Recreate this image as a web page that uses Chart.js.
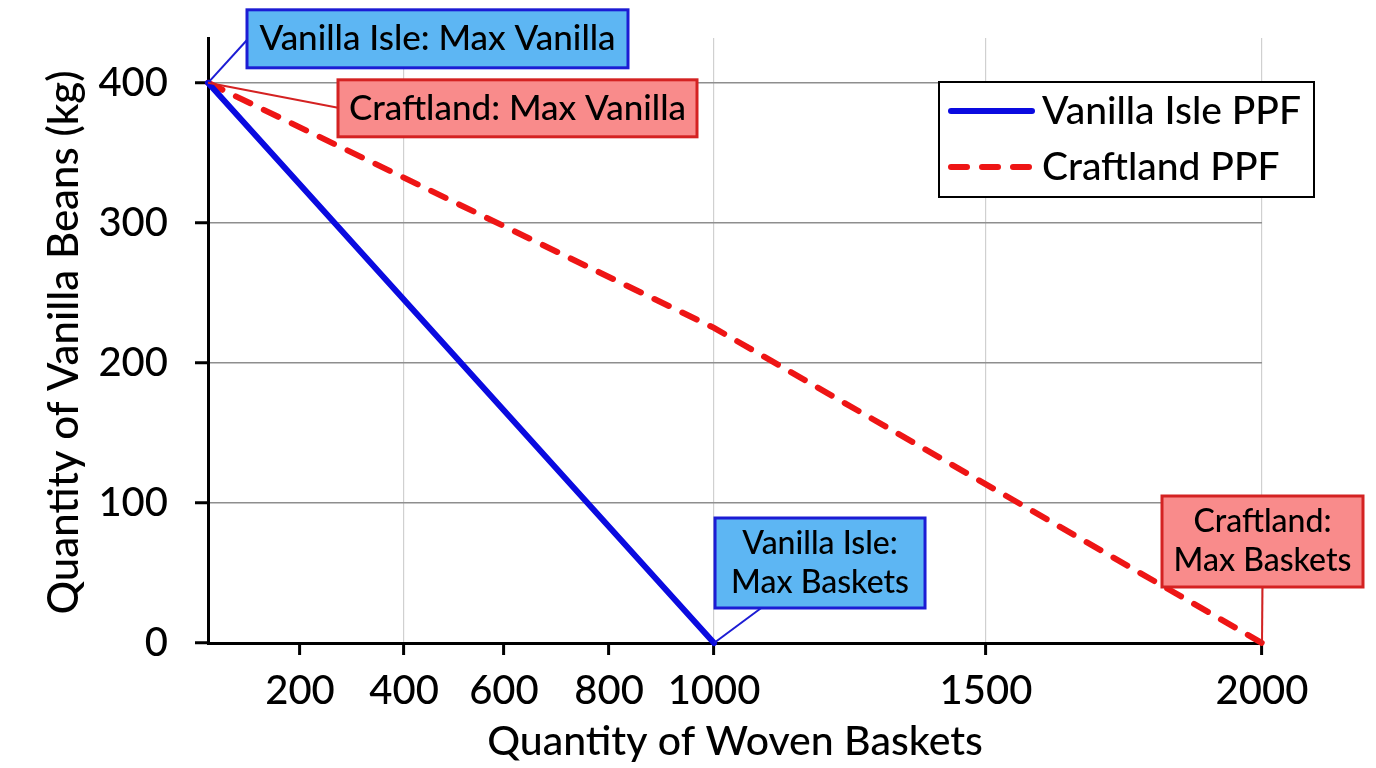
<!DOCTYPE html>
<html>
<head>
<meta charset="utf-8">
<script src="https://cdn.jsdelivr.net/npm/chart.js@4.4.1/dist/chart.umd.min.js"></script>
<style>
  html, body { margin: 0; padding: 0; background: #fff; }
  #wrap { width: 1376px; height: 768px; }
</style>
</head>
<body>
<div id="wrap"><canvas id="ppfChart" width="1376" height="768"></canvas></div>
<script>
// values
const vanillaX = [0, 1000];
const vanillaY = [400, 0];
const craftX = [0, 1000, 2000];
const craftY = [400, 225, 0];
const seriesNames = ['Vanilla Isle PPF', 'Craftland PPF'];
const xTicks = [200, 400, 600, 800, 1000, 1500, 2000];
const xGridAt = [400, 1000, 1500, 2000];
const yTicks = [0, 100, 200, 300, 400];
const xTitle = 'Quantity of Woven Baskets';
const yTitle = 'Quantity of Vanilla Beans (kg)';
const calloutText = [
    ['Vanilla Isle: Max Vanilla'],
    ['Craftland: Max Vanilla'],
    ['Vanilla Isle:', 'Max Baskets'],
    ['Craftland:', 'Max Baskets']
];
const calloutAt = [[0, 400], [0, 400], [1000, 0], [2000, 0]];

// the x axis in the picture is not evenly spaced, so the scale maps
// each stop to its share of the axis length
const axisStops = [0, 200, 400, 600, 800, 1000, 1500, 2000];
const axisShare = [0, 0.0873, 0.186, 0.2808, 0.3805, 0.4801, 0.7381, 1];

class UnevenScale extends Chart.LinearScale {
    getPixelForValue(value) {
        let i = 1;
        while (i < axisStops.length - 1 && value > axisStops[i]) i++;
        const t = (value - axisStops[i - 1]) / (axisStops[i] - axisStops[i - 1]);
        return this.getPixelForDecimal(axisShare[i - 1] + t * (axisShare[i] - axisShare[i - 1]));
    }
    getValueForPixel(pixel) {
        const d = this.getDecimalForPixel(pixel);
        let i = 1;
        while (i < axisShare.length - 1 && d > axisShare[i]) i++;
        const t = (d - axisShare[i - 1]) / (axisShare[i] - axisShare[i - 1]);
        return axisStops[i - 1] + t * (axisStops[i] - axisStops[i - 1]);
    }
}
UnevenScale.id = 'uneven';
UnevenScale.defaults = Chart.LinearScale.defaults;
Chart.register(UnevenScale);

const FONT = 'Lato';
const W = 500;
const blue = '#0a0ae0';
const red = '#ee1515';

const boxStyle = [
    { fill: '#5db6f3', stroke: '#1c1cd4', dx: 39, dy: -73, w: 381, h: 58, ax: 0, ay: 0.52, size: 35 },
    { fill: '#f98b8b', stroke: '#d42222', dx: 130, dy: -3, w: 359, h: 57, ax: 0, ay: 0.49, size: 35 },
    { fill: '#5db6f3', stroke: '#1c1cd4', dx: 1, dy: -125, w: 210, h: 90, ax: 0.22, ay: 1, size: 32 },
    { fill: '#f98b8b', stroke: '#d42222', dx: -100, dy: -147, w: 201, h: 91, ax: 0.5, ay: 1, size: 32 }
];

const calloutPlugin = {
    id: 'callouts',
    afterDatasetsDraw(chart) {
        const c = chart.ctx;
        const xs = chart.scales.x, ys = chart.scales.y;
        c.save();
        calloutText.forEach((lines, i) => {
            const st = boxStyle[i];
            const px = xs.getPixelForValue(calloutAt[i][0]);
            const py = ys.getPixelForValue(calloutAt[i][1]);
            const left = px + st.dx, top = py + st.dy;
            c.strokeStyle = st.stroke;
            c.lineWidth = 2;
            c.beginPath();
            c.moveTo(px, py);
            c.lineTo(left + st.ax * st.w, top + st.ay * st.h);
            c.stroke();
            c.fillStyle = st.fill;
            c.fillRect(left, top, st.w, st.h);
            c.lineWidth = 3;
            c.strokeRect(left, top, st.w, st.h);
            c.fillStyle = '#000';
            c.font = W + ' ' + st.size + 'px ' + FONT;
            c.textAlign = 'center';
            c.textBaseline = 'middle';
            const mid = top + st.h / 2;
            lines.forEach((t, k) => {
                c.fillText(t, left + st.w / 2, mid + (k - (lines.length - 1) / 2) * 39);
            });
        });
        c.restore();
    }
};

const legendPlugin = {
    id: 'boxLegend',
    afterDatasetsDraw(chart) {
        const c = chart.ctx;
        const area = chart.chartArea;
        const left = area.right - 323, top = area.top + 44, w = 375, h = 115;
        c.save();
        c.fillStyle = '#fff';
        c.fillRect(left, top, w, h);
        c.strokeStyle = '#000';
        c.lineWidth = 2;
        c.strokeRect(left, top, w, h);
        chart.data.datasets.forEach((ds, i) => {
            const y = top + 29 + i * 56;
            c.strokeStyle = ds.borderColor;
            c.lineWidth = ds.borderWidth;
            c.lineCap = 'round';
            c.setLineDash(ds.borderDash || []);
            c.beginPath();
            c.moveTo(left + 12, y);
            c.lineTo(left + 93, y);
            c.stroke();
            c.setLineDash([]);
            c.fillStyle = '#000';
            c.font = W + ' 39px ' + FONT;
            c.textAlign = 'left';
            c.textBaseline = 'middle';
            c.fillText(ds.label, left + 103, y);
        });
        c.restore();
    }
};

// y title drawn by hand so it sits where the picture has it
const yTitlePlugin = {
    id: 'yTitle',
    afterDraw(chart) {
        const c = chart.ctx;
        const area = chart.chartArea;
        c.save();
        c.translate(64, (area.top + area.bottom) / 2 + 2);
        c.rotate(-Math.PI / 2);
        c.fillStyle = '#000';
        c.font = W + ' 42px ' + FONT;
        c.textAlign = 'center';
        c.textBaseline = 'middle';
        c.fillText(yTitle, 0, 0);
        c.restore();
    }
};

function draw() {
    const ctx = document.getElementById('ppfChart').getContext('2d');
    new Chart(ctx, {
        type: 'line',
        data: {
            datasets: [{
                label: seriesNames[0],
                data: vanillaX.map((x, i) => ({ x: x, y: vanillaY[i] })),
                borderColor: blue,
                borderWidth: 6,
                borderCapStyle: 'round',
                pointRadius: 0,
                tension: 0,
                clip: false
            }, {
                label: seriesNames[1],
                data: craftX.map((x, i) => ({ x: x, y: craftY[i] })),
                borderColor: red,
                borderWidth: 6,
                borderDash: [16, 15],
                borderCapStyle: 'round',
                pointRadius: 0,
                tension: 0,
                clip: false
            }]
        },
        options: {
            responsive: false,
            animation: false,
            devicePixelRatio: 1,
            layout: { padding: { top: 38, right: 114, left: 0, bottom: 0 } },
            plugins: { legend: { display: false }, tooltip: { enabled: false } },
            scales: {
                x: {
                    type: 'uneven',
                    min: 0,
                    max: 2000,
                    afterBuildTicks: s => { s.ticks = xTicks.map(v => ({ value: v })); },
                    afterFit: s => { s.height = 125; s.paddingLeft = 0; s.paddingRight = 0; },
                    grid: {
                        color: c => (c.tick && xGridAt.includes(c.tick.value)) ? '#d0d0d0' : 'rgba(0,0,0,0)',
                        lineWidth: 1.2,
                        tickColor: '#000',
                        tickLength: 12,
                        tickWidth: 3
                    },
                    border: { color: '#000', width: 3 },
                    ticks: {
                        font: { family: FONT, size: 40, weight: W },
                        color: '#000',
                        padding: 12,
                        maxRotation: 0,
                        autoSkip: false,
                        callback: v => String(v)
                    },
                    title: {
                        display: true,
                        text: xTitle,
                        color: '#000',
                        font: { family: FONT, size: 41, lineHeight: 1, weight: W },
                        padding: { top: 0, bottom: 6 }
                    }
                },
                y: {
                    min: 0,
                    max: 432,
                    afterBuildTicks: s => { s.ticks = yTicks.map(v => ({ value: v })); },
                    afterFit: s => { s.width = 208; s.paddingTop = 0; s.paddingBottom = 0; },
                    grid: {
                        color: c => (c.tick && c.tick.value > 0) ? '#8e8e8e' : 'rgba(0,0,0,0)',
                        lineWidth: 1.5,
                        tickColor: '#000',
                        tickLength: 13,
                        tickWidth: 3
                    },
                    border: { color: '#000', width: 3 },
                    ticks: { font: { family: FONT, size: 40, weight: W }, color: '#000', padding: 27, callback: v => String(v) },
                    title: { display: false }
                }
            }
        },
        plugins: [calloutPlugin, legendPlugin, yTitlePlugin]
    });
}

Promise.all([
    document.fonts.load(W + ' 40px ' + FONT),
    document.fonts.load('40px ' + FONT)
]).then(draw, draw);
</script>
</body>
</html>
